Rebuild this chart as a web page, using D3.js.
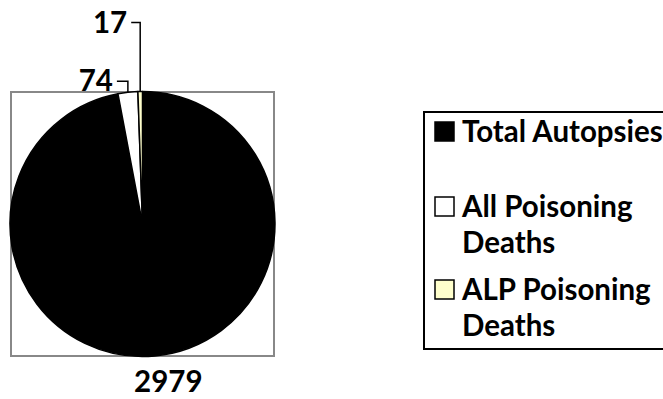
<!DOCTYPE html>
<html>
<head>
<meta charset="utf-8">
<script src="https://cdn.jsdelivr.net/npm/d3@7"></script>
<style>
  html, body { margin: 0; padding: 0; background: #fff; }
  svg { display: block; }
  text { font-family: Lato, "Open Sans", sans-serif; font-weight: bold; fill: #000; }
</style>
</head>
<body>
<svg id="chart" width="663" height="399"></svg>
<script>
// Autopsy breakdown
const categories = ["Total Autopsies", "All Poisoning Deaths", "ALP Poisoning Deaths"];
const values = [2979, 74, 17];
const sliceColors = ["#000000", "#ffffff", "#ffffcc"];
// legend text, wrapped as shown in the legend box
const legendLines = [["Total Autopsies"], ["All Poisoning", "Deaths"], ["ALP Poisoning", "Deaths"]];

const svg = d3.select("#chart");
const cx = 142.5, cy = 224, r = 132.5;
const fontSize = 29.5;

// plot area frame
svg.append("rect")
  .attr("x", 11).attr("y", 92).attr("width", 263).attr("height", 264)
  .attr("fill", "none").attr("stroke", "#888").attr("stroke-width", 2);

const pie = d3.pie().sort(null).value(d => d)
  .startAngle(0).endAngle(2 * Math.PI);
const arcs = pie(values);
const arc = d3.arc().innerRadius(0).outerRadius(r);

const g = svg.append("g").attr("transform", `translate(${cx},${cy})`);
g.selectAll("path.slice")
  .data(arcs)
  .join("path")
  .attr("class", "slice")
  .attr("d", arc)
  .attr("fill", (d, i) => sliceColors[i])
  .attr("stroke", "#000")
  .attr("stroke-width", 1.5)
  .attr("stroke-linejoin", "round");

// outside-end data labels, small slices get elbow leader lines
const labelStyle = [
  { dx: 13.5, dy: 36, leader: false },
  { dx: -11, dy: -11, leader: true },
  { dx: -9, dy: -69, leader: true }
];

arcs.forEach((d, i) => {
  const mid = (d.startAngle + d.endAngle) / 2;
  const ex = Math.sin(mid) * r, ey = -Math.cos(mid) * r;
  const s = labelStyle[i];
  if (s.leader) {
    const ly = ey + s.dy;
    const lx = ex + s.dx;
    g.append("path")
      .attr("d", `M${lx},${ly} H${ex} V${ey}`)
      .attr("fill", "none").attr("stroke", "#000").attr("stroke-width", 1.5);
    g.append("text")
      .attr("x", lx - 4).attr("y", ly + 10)
      .attr("text-anchor", "end")
      .attr("font-size", fontSize)
      .text(d3.format("d")(d.data));
  } else {
    g.append("text")
      .attr("x", ex + s.dx).attr("y", ey + s.dy)
      .attr("text-anchor", "middle")
      .attr("font-size", fontSize)
      .text(d3.format("d")(d.data));
  }
});

// legend
const legendX = 424, legendTop = 112, legendBottom = 349;
svg.append("rect")
  .attr("x", legendX).attr("y", legendTop)
  .attr("width", 300).attr("height", legendBottom - legendTop)
  .attr("fill", "#fff").attr("stroke", "#000").attr("stroke-width", 2);

const lineH = 36;
const firstBaselines = [142, 217, 300];
const legend = svg.append("g");
categories.forEach((c, i) => {
  const b = firstBaselines[i];
  legend.append("rect")
    .attr("x", 435).attr("y", b - 20).attr("width", 19).attr("height", 19)
    .attr("fill", sliceColors[i]).attr("stroke", "#000").attr("stroke-width", 1.5);
  legendLines[i].forEach((t, j) => {
    legend.append("text")
      .attr("x", 462).attr("y", b + j * lineH)
      .attr("font-size", fontSize)
      .text(t);
  });
});
</script>
</body>
</html>
